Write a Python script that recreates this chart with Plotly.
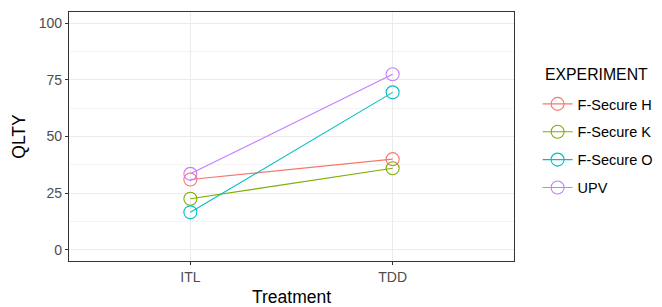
import plotly.graph_objects as go

treatments = ["ITL", "TDD"]
experiments = ["F-Secure H", "F-Secure K", "F-Secure O", "UPV"]
qlty_h = [31, 40]
qlty_k = [22.5, 36]
qlty_o = [16.5, 69.5]
qlty_upv = [33.5, 77.5]
colors = ["#F8766D", "#7CAE00", "#00BFC4", "#C77CFF"]
series = [qlty_h, qlty_k, qlty_o, qlty_upv]

fig = go.Figure()
for name, vals, col in zip(experiments, series, colors):
    fig.add_trace(go.Scatter(
        x=treatments, y=vals, name=name, mode="lines+markers",
        legendgroup=name,
        line=dict(color=col, width=1.1),
        marker=dict(symbol="circle-open", size=13, color=col, line=dict(width=1.1, color=col)),
    ))

fnt = "Liberation Sans, Arial, sans-serif"
# page body has an 8px margin, so the figure is sized to the visible area
fig.update_layout(
    width=654, height=299,
    margin=dict(l=61, r=145, t=4, b=46),
    paper_bgcolor="white", plot_bgcolor="white",
    font=dict(family=fnt, color="#000000"),
    showlegend=True,
    legend=dict(
        x=1.053, xanchor="left", y=0.462, yanchor="middle",
        font=dict(size=14.5, color="#000000"),
        tracegroupgap=6, itemwidth=30,
        bgcolor="rgba(0,0,0,0)",
    ),
    annotations=[dict(
        text="EXPERIMENT", xref="paper", yref="paper",
        x=1.065, xanchor="left", y=0.747, yanchor="middle",
        showarrow=False, font=dict(size=15.8, color="#000000"),
    )],
    xaxis=dict(
        type="category", range=[-0.6, 1.6], automargin=False,
        showline=True, linecolor="#333333", linewidth=1.2, mirror=True,
        showgrid=True, gridcolor="#EBEBEB", gridwidth=1,
        ticks="outside", ticklen=3, tickcolor="#333333",
        tickfont=dict(size=14, color="#4D4D4D"),
        title=dict(text="Treatment", font=dict(size=17.5, color="#000000"), standoff=6),
        zeroline=False,
    ),
    yaxis=dict(
        range=[-5, 105], automargin=False,
        tickvals=[0, 25, 50, 75, 100],
        showline=True, linecolor="#333333", linewidth=1.2, mirror=True,
        showgrid=True, gridcolor="#EBEBEB", gridwidth=1,
        minor=dict(tickvals=[12.5, 37.5, 62.5, 87.5], showgrid=True, gridcolor="#F3F3F3", gridwidth=0.6, ticks=""),
        ticks="outside", ticklen=3, tickcolor="#333333",
        tickfont=dict(size=14, color="#4D4D4D"),
        title=dict(text="QLTY", font=dict(size=17.5, color="#000000"), standoff=8),
        zeroline=False,
    ),
)
fig.write_html("out.html")
